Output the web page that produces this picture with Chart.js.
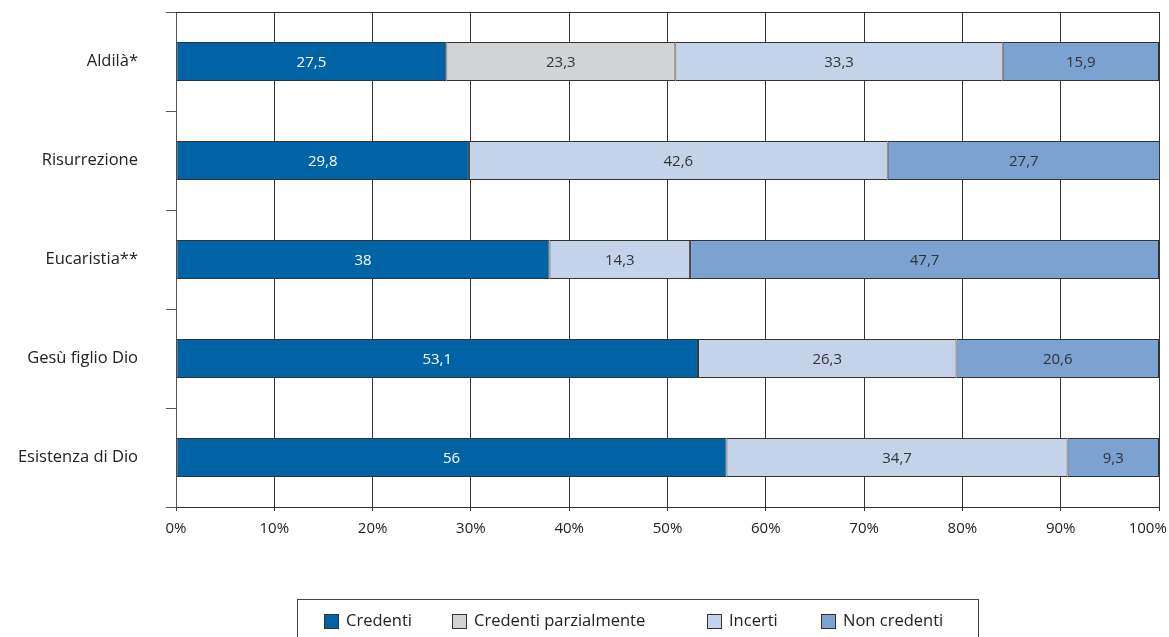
<!DOCTYPE html>
<html>
<head>
<meta charset="utf-8">
<script src="https://cdn.jsdelivr.net/npm/chart.js@4/dist/chart.umd.min.js"></script>
<style>
  html, body { margin: 0; padding: 0; background: #fff; }
</style>
</head>
<body>
<canvas id="myChart" width="1169" height="637"></canvas>
<script>
// Data
var categories = ["Aldilà*", "Risurrezione", "Eucaristia**", "Gesù figlio Dio", "Esistenza di Dio"];
var credenti = [27.5, 29.8, 38, 53.1, 56];
var parzialmente = [23.3, null, null, null, null];
var incerti = [33.3, 42.6, 14.3, 26.3, 34.7];
var nonCredenti = [15.9, 27.7, 47.7, 20.6, 9.3];
var seriesNames = ["Credenti", "Credenti parzialmente", "Incerti", "Non credenti"];

var FONT = "'Open Sans', sans-serif";
var colors = ["#0063a6", "#d2d3d5", "#c5d3ea", "#7ba2d0"];
var legendX = [324, 452, 707, 821]; // left edge of each legend item

// labels inside the bars, comma as decimal separator
var barLabels = {
  id: "barLabels",
  afterDatasetsDraw: function (chart) {
    var c = chart.ctx;
    c.save();
    c.font = "15px " + FONT;
    c.textAlign = "center";
    c.textBaseline = "middle";
    chart.data.datasets.forEach(function (ds, i) {
      chart.getDatasetMeta(i).data.forEach(function (bar, j) {
        var v = ds.data[j];
        if (v == null) return;
        c.fillStyle = i === 0 ? "#ffffff" : "#333333";
        c.fillText(String(v).replace(".", ","), (bar.x + bar.base) / 2, bar.y + 1);
      });
    });
    c.restore();
  },
};

// top border line + boxed legend at the bottom
var frame = {
  id: "frame",
  afterDraw: function (chart) {
    var c = chart.ctx;
    var a = chart.chartArea;
    c.save();
    c.strokeStyle = "#333";
    c.lineWidth = 1;
    c.beginPath();
    c.moveTo(a.left, a.top + 0.5);
    c.lineTo(a.right, a.top + 0.5);
    c.stroke();

    c.strokeStyle = "#444";
    c.strokeRect(297.5, 599.5, 681, 60);

    c.font = "16.5px " + FONT;
    c.textBaseline = "middle";
    chart.data.datasets.forEach(function (ds, i) {
      var x = legendX[i];
      c.fillStyle = ds.backgroundColor;
      c.fillRect(x, 614, 15, 15);
      c.strokeStyle = "#333";
      c.strokeRect(x + 0.5, 614.5, 14, 14);
      c.fillStyle = "#222";
      c.fillText(ds.label, x + 22, 621);
    });
    c.restore();
  },
};

function makeSet(i, values) {
  return {
    label: seriesNames[i],
    data: values,
    backgroundColor: colors[i],
    borderColor: "#333",
    borderWidth: 1,
    borderSkipped: false,
    barPercentage: 0.395,
    categoryPercentage: 1,
  };
}

var ctx = document.getElementById("myChart").getContext("2d");

var myChart = new Chart(ctx, {
  type: "bar",
  data: {
    labels: categories,
    datasets: [
      makeSet(0, credenti),
      makeSet(1, parzialmente),
      makeSet(2, incerti),
      makeSet(3, nonCredenti),
    ],
  },
  options: {
    indexAxis: "y",
    responsive: false,
    animation: false,
    layout: { padding: { top: 12, right: 10, left: 0, bottom: 0 } },
    plugins: {
      legend: { display: false },
      tooltip: { enabled: false },
    },
    scales: {
      x: {
        stacked: true,
        min: 0,
        max: 100,
        ticks: {
          stepSize: 10,
          padding: 9,
          color: "#222",
          font: { family: FONT, size: 15 },
          // trailing spaces pull the last label back inside the canvas
          callback: function (v) { return v === 100 ? "100%\u2002\u2002\u2002" : v + "%"; },
        },
        grid: { color: "#333", lineWidth: 1, tickLength: 4 },
        border: { color: "#333" },
        afterFit: function (scale) {
          scale.height = 130;
          scale.paddingLeft = 0;
          scale.paddingRight = 0;
        },
      },
      y: {
        stacked: true,
        grid: { drawOnChartArea: false, color: "#555", tickLength: 10, offset: true },
        border: { color: "#555" },
        ticks: {
          padding: 28,
          color: "#222",
          font: { family: FONT, size: 16.5 },
        },
        afterFit: function (scale) {
          scale.width = 176;
          scale.paddingTop = 0;
          scale.paddingBottom = 0;
        },
      },
    },
  },
  plugins: [barLabels, frame],
});
</script>
</body>
</html>
